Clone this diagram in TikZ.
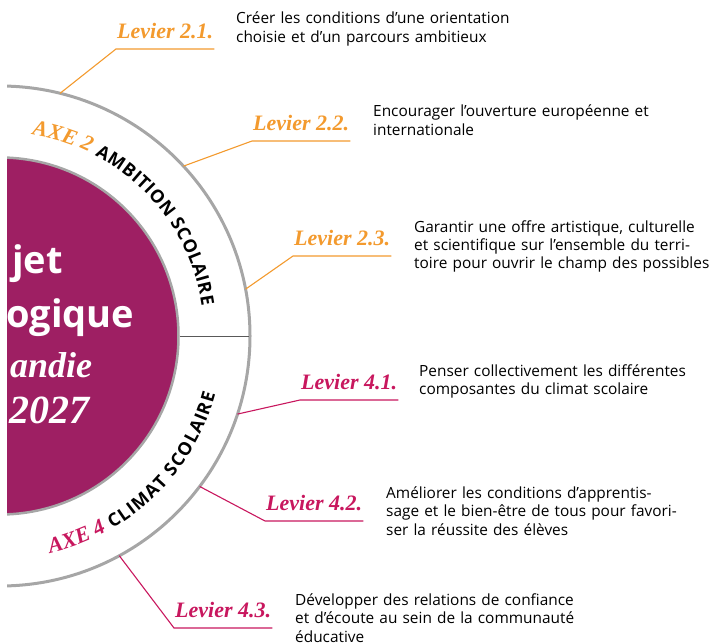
\documentclass[tikz,border=0pt]{standalone}
\usepackage{fontspec}
\setmainfont{Open Sans}
\newfontfamily\levierfont{Liberation Serif}
\usetikzlibrary{decorations.text}

\definecolor{axeorange}{HTML}{F39A2E}
\definecolor{axecrimson}{HTML}{C8175E}
\definecolor{projpurple}{HTML}{9E1F63}
\definecolor{ringgray}{HTML}{A6A6A6}

\tikzset{
  levier/.style={font=\levierfont\bfseries\itshape\fontsize{22}{22}\selectfont,
    inner xsep=1pt, inner ysep=10pt, anchor=south west},
  desc/.style={font=\fontsize{15.4}{18.5}\selectfont, anchor=base west,
    align=left, inner sep=0pt, text width=320pt},
  centre/.style={text=white, anchor=base west, inner sep=0pt}
}

\begin{document}
\begin{tikzpicture}[x=1pt,y=1pt]
\useasboundingbox (0,-307) rectangle (712,336);

% Rings (cut at the left edge)
\begin{scope}
\clip (7,-307) rectangle (712,336);
\draw[ringgray,line width=3pt] (0,0) circle[radius=250];
\draw[ringgray,line width=2.5pt,fill=projpurple] (0,0) circle[radius=178.5];
\node[centre,font=\bfseries\fontsize{38}{38}\selectfont] (t1) at (12,63) {jet};
\node[centre,font=\bfseries\fontsize{38}{38}\selectfont] (t2) at (6,9) {ogique};
\node[centre,font=\levierfont\bfseries\itshape\fontsize{36}{36}\selectfont] (t3) at (10,-41) {andie};
\node[centre,font=\levierfont\bfseries\itshape\fontsize{40}{40}\selectfont] (t4) at (9,-87) {2027};
\end{scope}

% Separation of the two axes
\draw[black!65,line width=1pt] (180,0) -- (249,0);

% Axis titles along the ring
\path[decorate,decoration={text along path,
  text={|\levierfont\bfseries\itshape\fontsize{22}{22}\selectfont\color{axeorange}|AXE 2 |\bfseries\fontsize{18}{18}\selectfont\color{black}\kern0.5pt|AMBITION SCOLAIRE}}]
  (81:204) arc[start angle=81, end angle=-5, radius=204];
\path[decorate,decoration={text along path,
  text={|\levierfont\bfseries\itshape\fontsize{22}{22}\selectfont\color{axecrimson}|AXE 4 |\bfseries\fontsize{18}{18}\selectfont\color{black}\kern1.1pt|CLIMAT SCOLAIRE}}]
  (-77:223) arc[start angle=-77, end angle=5, radius=223];

% Levers with their underline and connector
\foreach \nm/\lab/\ang/\x/\y/\col in {a/2.1./76.1/116/287/axeorange,
    b/2.2./42.8/252/195/axeorange, c/2.3./10.8/293/80/axeorange,
    d/4.1./-18.2/300/-64/axecrimson, e/4.2./-37/265/-185/axecrimson,
    f/4.3./-61.5/174/-292/axecrimson} {
  \coordinate (p\nm) at (\ang:250);
  \node[levier,text=\col] (lev\nm) at (\x,\y) {Levier \lab};
  \draw[\col,line width=1.1pt] (p\nm) -- (lev\nm.south west) -- (lev\nm.south east);
}

% Descriptions
\node[desc] (da) at (236,312) {Créer les conditions d’une orientation\\choisie et d’un parcours ambitieux};
\node[desc] (db) at (373,219) {Encourager l’ouverture européenne et\\internationale};
\node[desc] (dc) at (414,104) {Garantir une offre artistique, culturelle\\et scientifique sur l’ensemble du terri-\\toire pour ouvrir le champ des possibles};
\node[desc] (dd) at (419,-40) {Penser collectivement les différentes\\composantes du climat scolaire};
\node[desc] (de) at (386,-162) {Améliorer les conditions d’apprentis-\\sage et le bien-être de tous pour favori-\\ser la réussite des élèves};
\node[desc] (df) at (295,-269) {Développer des relations de confiance\\et d’écoute au sein de la communauté\\éducative};

\end{tikzpicture}
\end{document}
